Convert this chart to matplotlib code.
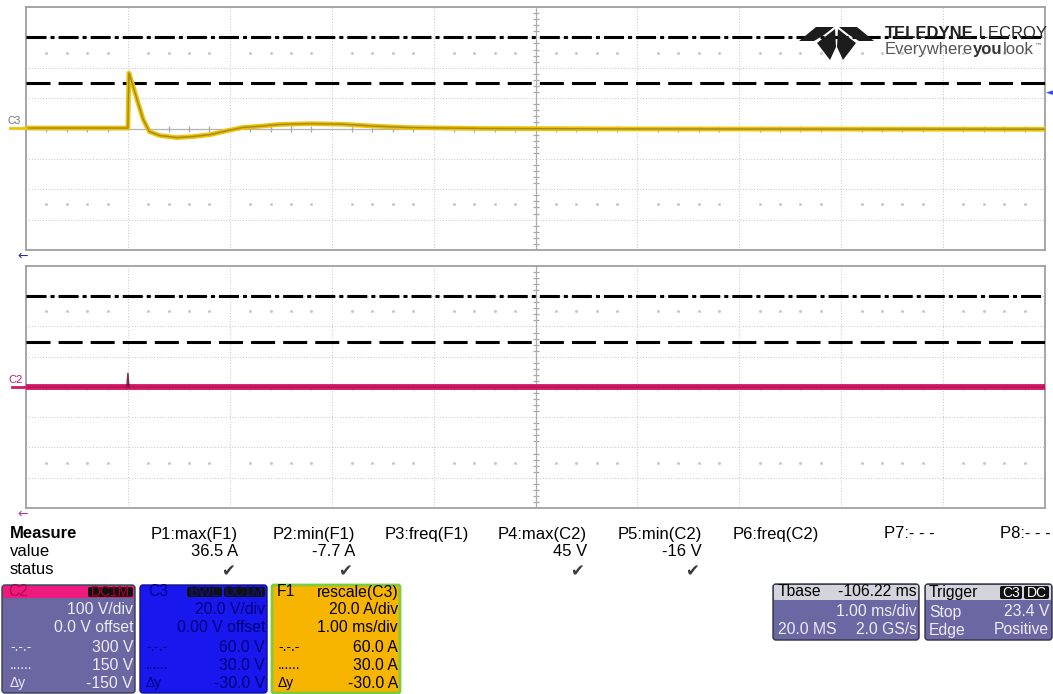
import matplotlib
matplotlib.use('Agg')
import matplotlib.pyplot as plt
from matplotlib.patches import FancyBboxPatch, Polygon
import numpy as np

plt.rcParams['font.family'] = ['Liberation Sans', 'DejaVu Sans']
plt.rcParams['lines.scale_dashes'] = False

# ---------------- data ----------------
f1_time_ms = [-1.0, -0.01, 0.0, 0.01, 0.05, 0.09, 0.15, 0.21, 0.31, 0.48, 0.64,
              0.81, 0.97, 1.13, 1.30, 1.47, 1.79, 2.11, 2.44, 2.77, 3.5, 5.0, 7.0, 9.0]
f1_amps = [0.3, 0.3, 0.3, 36.5, 28.0, 19.0, 6.0, -2.0, -4.6, -6.0, -5.3,
           -4.0, -1.5, 0.7, 1.5, 2.6, 3.2, 2.8, 1.5, 0.6, 0.0, -0.3, -0.4, -0.5]

c2_time_ms = [-1.0, -0.01, 0.0, 0.01, 9.0]
c2_volts = [0.0, 0.0, 45.0, 0.0, 0.0]

f1_amps_per_div = 20.0      # A/div
c2_volts_per_div = 100.0    # V/div
f1_cursor_levels = [60.0, 30.0]
c2_cursor_levels = [300.0, 150.0]

measure_headers = ["P1:max(F1)", "P2:min(F1)", "P3:freq(F1)", "P4:max(C2)",
                   "P5:min(C2)", "P6:freq(C2)", "P7:- - -", "P8:- - -"]
measure_values = ["36.5 A", "-7.7 A", "", "45 V", "-16 V", "", "", ""]
measure_status = [True, True, False, True, True, False, False, False]

c2_box_rows = [("", "100 V/div"), ("", "0.0 V offset"), ("-.-.-", "300 V"),
               ("......", "150 V"), ("Δy", "-150 V")]
c3_box_rows = [("", "20.0 V/div"), ("", "0.00 V offset"), ("-.-.-", "60.0 V"),
               ("......", "30.0 V"), ("Δy", "-30.0 V")]
f1_box_rows = [("", "20.0 A/div"), ("", "1.00 ms/div"), ("-.-.-", "60.0 A"),
               ("......", "30.0 A"), ("Δy", "-30.0 A")]

# ---------------- figure ----------------
W, H = 1053, 694
fig = plt.figure(figsize=(W / 100, H / 100), dpi=100)
fig.patch.set_facecolor('white')

GX0, GX1 = 26, 1045


def make_panel(top, bottom, per_div):
    ax = fig.add_axes([GX0 / W, 1 - bottom / H, (GX1 - GX0) / W, (bottom - top) / H])
    ax.set_xlim(-1, 9)
    ax.set_ylim(-4 * per_div, 4 * per_div)
    ax.set_xticks(np.arange(-1, 10, 1))
    ax.set_yticks(np.arange(-4, 5) * per_div)
    ax.tick_params(length=0, labelbottom=False, labelleft=False)
    ax.grid(True, color='#bdbdbd', lw=0.7, linestyle=(0, (0.6, 1.4)))
    for s in ax.spines.values():
        s.set_color('#a0a0a0')
        s.set_linewidth(1.3)
    ax.axhline(0, color='#b0b0b0', lw=0.9, zorder=1)
    ax.axvline(4, color='#a8a8a8', lw=0.9, zorder=1)
    subx = [v for v in np.arange(-1, 9.0001, 0.2) if abs(v - round(v)) > 1e-6]
    suby = [v * per_div for v in np.arange(-4, 4.0001, 0.2) if abs(v - round(v)) > 1e-6]
    ax.plot(subx, [0] * len(subx), ls='none', marker='|', ms=4.0, mew=0.9, color='#a8a8a8', zorder=1)
    ax.plot([4] * len(suby), suby, ls='none', marker='_', ms=4.0, mew=0.9, color='#a8a8a8', zorder=1)
    ax.plot(subx * 2, [2.5 * per_div] * len(subx) + [-2.5 * per_div] * len(subx),
            ls='none', marker='s', ms=1.0, color='#c8c8c8', zorder=1)
    return ax


dashdot = (0, (14.4, 2.9, 2.9, 2.9))
dashed = (0, (17.3, 5.8))

# top panel (F1 / C3)
ax1 = make_panel(7, 250, f1_amps_per_div)
ax1.axhline(f1_cursor_levels[0], color='black', lw=2.2, ls=dashdot, dash_capstyle='butt', zorder=3)
ax1.axhline(f1_cursor_levels[1], color='black', lw=2.2, ls=dashed, dash_capstyle='butt', zorder=3)
ax1.plot(f1_time_ms, f1_amps, color='#eec200', lw=3.4, zorder=5, solid_joinstyle='round')
ax1.plot(f1_time_ms, f1_amps, color='#857430', lw=1.1, alpha=0.7, zorder=6)

# bottom panel (C2)
ax2 = make_panel(266, 508, c2_volts_per_div)
ax2.axhline(c2_cursor_levels[0], color='black', lw=2.2, ls=dashdot, dash_capstyle='butt', zorder=3)
ax2.axhline(c2_cursor_levels[1], color='black', lw=2.2, ls=dashed, dash_capstyle='butt', zorder=3)
ax2.plot(c2_time_ms[:2], c2_volts[:2], color='#d41868', lw=4.2, zorder=5)
ax2.plot(c2_time_ms[3:], c2_volts[3:], color='#d41868', lw=4.2, zorder=5)
ax2.plot(c2_time_ms, c2_volts, color='#7a1038', lw=1.0, alpha=0.35, zorder=6)
ax2.plot(c2_time_ms[1:4], c2_volts[1:4], color='#6a1034', lw=1.0, alpha=0.8, zorder=6)

# ---------------- overlay in pixel coords ----------------
ov = fig.add_axes([0, 0, 1, 1], zorder=10)
ov.set_xlim(0, W)
ov.set_ylim(H, 0)
ov.axis('off')
ov.patch.set_alpha(0)


def T(x, y, s, ha='left', size=11.3, color='black', weight='normal', **kw):
    return ov.text(x, y, s, ha=ha, va='center', fontsize=size, color=color,
                   fontweight=weight, **kw)


def rbox(x0, y0, x1, y1, fc, ec='none', lw=1.0, r=3, z=1):
    p = FancyBboxPatch((x0 + r, y0 + r), (x1 - x0) - 2 * r, (y1 - y0) - 2 * r,
                       boxstyle=f'round,pad={r}', fc=fc, ec=ec, lw=lw, zorder=z)
    ov.add_patch(p)
    return p


# channel labels / markers
T(8, 121, 'C3', size=7.5, color='#707070')
ov.plot([10, 26], [128, 128], color='#eec200', lw=2)
T(8, 380, 'C2', size=8, color='#c01c6a')
ov.plot([12, 26], [387, 387], color='#d41868', lw=2)
T(17, 256, '←', size=9, color='#2a2ab0', family='DejaVu Sans')
T(17, 514, '←', size=9, color='#b8388e', family='DejaVu Sans')
T(1053, 93, '◄', ha='right', size=6.5, color='#2a48f0', family='DejaVu Sans')

# logo emblem
for poly in [[(799, 41), (816, 27), (834, 27), (824, 35), (814, 41)],
             [(874, 41), (857, 27), (839, 27), (849, 35), (859, 41)],
             [(817, 43), (835, 29), (836, 47), (830, 60)],
             [(856, 43), (838, 29), (837, 47), (843, 60)]]:
    ov.add_patch(Polygon(poly, closed=True, fc='#1c1c1c', ec='none', zorder=5))

renderer = fig.canvas.get_renderer()


def chain(x, y, parts, size):
    for s, kw in parts:
        t = ov.text(x, y, s, ha='left', va='center', fontsize=size, zorder=6, **kw)
        x += t.get_window_extent(renderer=renderer).width
    return x


chain(885, 33, [('TELEDYNE', dict(fontweight='bold', color='#202020')),
                (' LECROY', dict(color='#2a2a2a'))], 12)
xe = chain(885, 49, [('Everywhere', dict(color='#555555')),
                     ('you', dict(fontweight='bold', color='#333333')),
                     ('look', dict(color='#555555'))], 12)
ov.text(xe + 1, 45, '™', fontsize=5, color='#555555', va='center', family='DejaVu Sans')

# measure table
T(10, 534, 'Measure', size=12, weight='bold')
T(10, 552, 'value', size=12)
T(10, 570, 'status', size=12)
col_right = [238, 355, 469, 587, 702, 819, 935, 1051]
for xr, h, v, st in zip(col_right, measure_headers, measure_values, measure_status):
    T(xr, 534, h, ha='right', size=12)
    if v:
        T(xr, 552, v, ha='right', size=12)
    if st:
        T(xr - 10, 571, '✔', ha='center', size=12, color='#3c3c3c', family='DejaVu Sans')

# channel boxes
row_y = [610, 628, 647, 665, 683]
BODY = '#6a67a3'


def badge(x0, x1, y0, y1, s, tc):
    rbox(x0, y0, x1, y1, fc='#111111', r=2, z=3)
    T((x0 + x1) / 2, (y0 + y1) / 2 + 0.5, s, ha='center', size=10, color=tc)


# C2
rbox(2, 585, 135, 693, fc=BODY, ec='#3a3a50', lw=1.0, r=3)
rbox(3, 586, 134, 598, fc='#ee1a7d', r=1, z=2)
T(8, 592, 'C2', color='#b0004c')
badge(88, 133, 587, 597, 'DC1M', '#b00030')
for (lab, val), y in zip(c2_box_rows, row_y):
    if lab:
        T(10, y, lab, color='#e8e8f4', size=10)
    T(133, y, val, ha='right', color='#ececf6')

# C3
rbox(140, 585, 267, 693, fc='#1818ee', ec='#10108a', lw=1.0, r=3)
T(148, 592, 'C3', color='#00008a')
badge(187, 222, 587, 597, 'BWL', '#10108a')
badge(224, 265, 587, 597, 'DC1M', '#10108a')
for (lab, val), y in zip(c3_box_rows, row_y):
    if lab:
        T(146, y, lab, color='#00007a', size=10)
    T(265, y, val, ha='right', color='#00007a')

# F1
rbox(272, 585, 400, 693, fc='#f7b500', ec='#7ccc3c', lw=2.0, r=2)
T(277, 592, 'F1')
T(398, 592, 'rescale(C3)', ha='right')
for (lab, val), y in zip(f1_box_rows, row_y):
    if lab:
        T(278, y, lab, size=10)
    T(398, y, val, ha='right')

# Tbase
rbox(773, 584, 919, 640, fc=BODY, ec='#303040', lw=1.0, r=3)
rbox(774, 585, 918, 600, fc='#d4d4dc', r=1, z=2)
T(778, 592, 'Tbase')
T(917, 592, '-106.22 ms', ha='right')
T(917, 612, '1.00 ms/div', ha='right', color='#ececf6')
T(778, 630, '20.0 MS', color='#ececf6')
T(917, 630, '2.0 GS/s', ha='right', color='#ececf6')

# Trigger
rbox(925, 584, 1052, 640, fc=BODY, ec='#303040', lw=1.0, r=3)
rbox(926, 585, 1051, 600, fc='#d4d4dc', r=1, z=2)
T(929, 592, 'Trigger')
badge(1000, 1022, 586, 599, 'C3', 'white')
badge(1024, 1049, 586, 599, 'DC', 'white')
T(929, 612, 'Stop', color='#ececf6')
T(1049, 612, '23.4 V', ha='right', color='#ececf6')
T(929, 630, 'Edge', color='#ececf6')
T(1049, 630, 'Positive', ha='right', color='#ececf6')

fig.savefig('out.png', dpi=100)
